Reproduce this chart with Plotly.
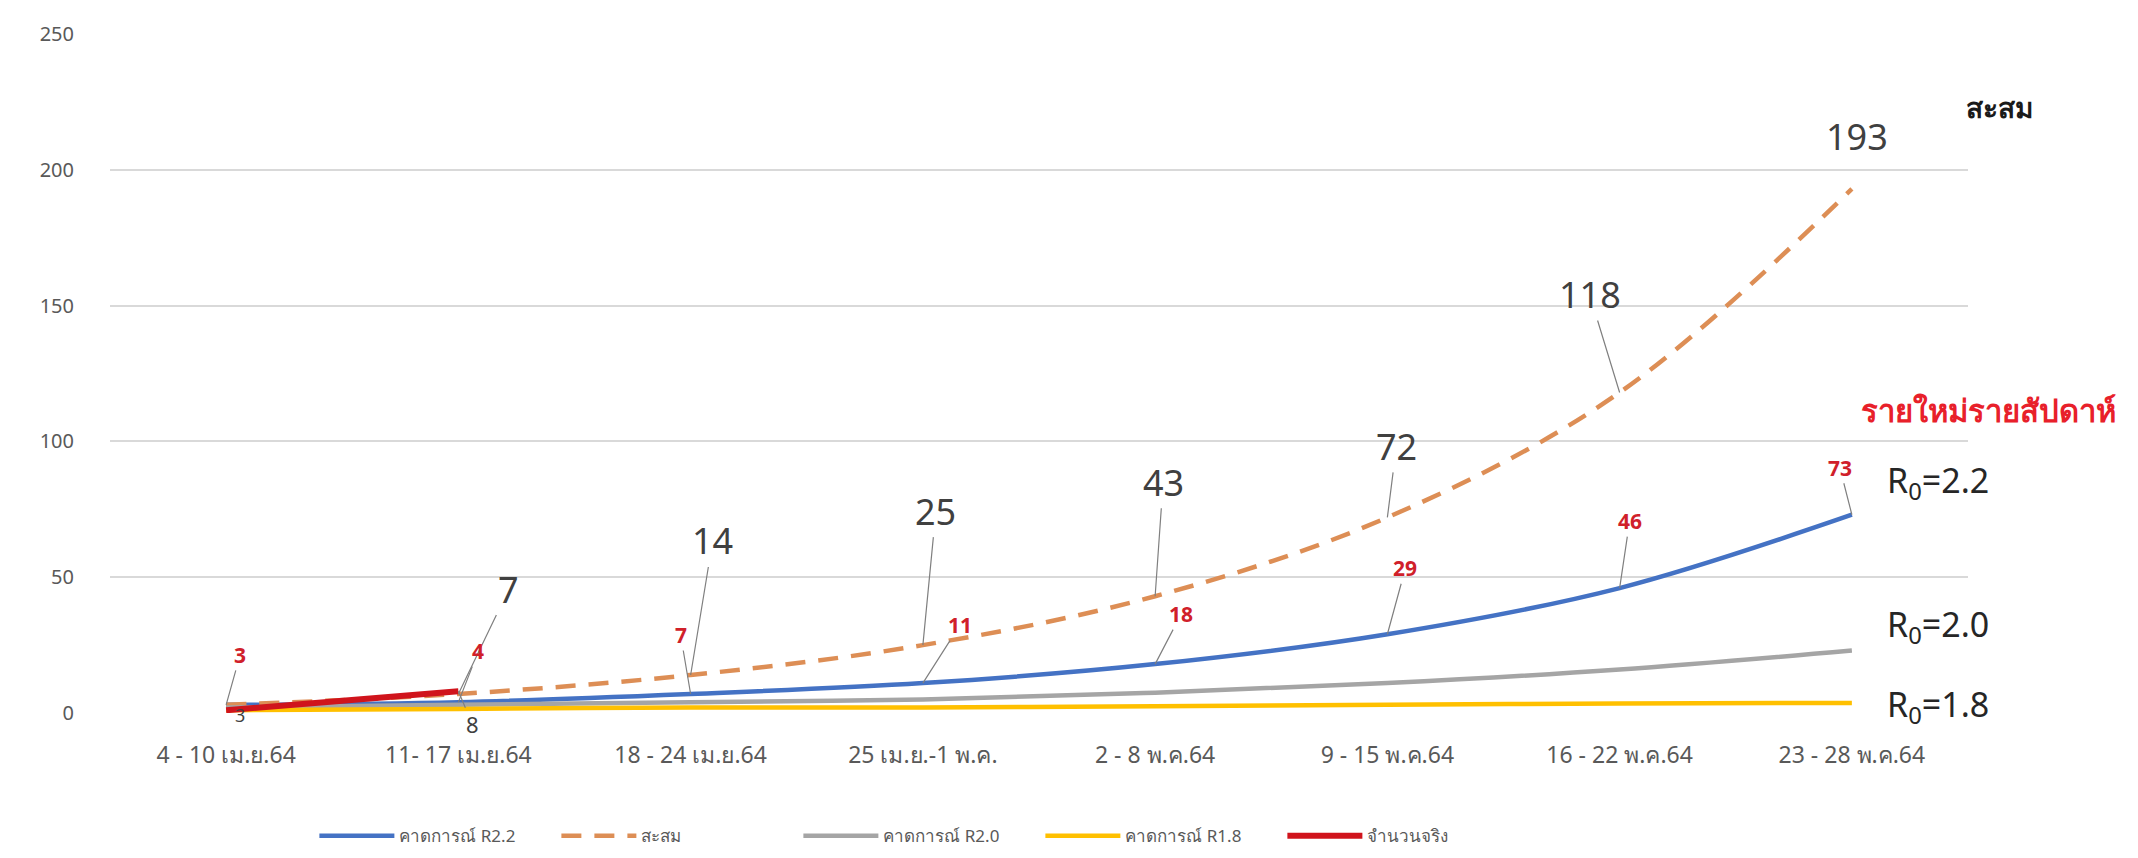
import plotly.graph_objects as go

categories = ["4 - 10 เม.ย.64", "11- 17 เม.ย.64", "18 - 24 เม.ย.64", "25 เม.ย.-1 พ.ค.",
              "2 - 8 พ.ค.64", "9 - 15 พ.ค.64", "16 - 22 พ.ค.64", "23 - 28 พ.ค.64"]
r22_weekly = [3, 4, 7, 11, 18, 29, 46, 73]
cumulative = [3, 7, 14, 25, 43, 72, 118, 193]
r20_weekly = [2, 3, 4, 5, 7.5, 11, 16, 23]
r18_weekly = [1, 1.5, 2, 2, 2.5, 3, 3.5, 3.7]
actual_cases = [1, 8]

FONT = "Tahoma, 'Noto Sans', 'DejaVu Sans', sans-serif"
idx = list(range(len(categories)))

fig = go.Figure()
fig.add_trace(go.Scatter(x=idx, y=r22_weekly, mode="lines", name="คาดการณ์ R2.2",
                         line=dict(color="#4472C4", width=4.5, shape="spline")))
fig.add_trace(go.Scatter(x=idx, y=cumulative, mode="lines", name="สะสม",
                         line=dict(color="#DD8E55", width=4.5, dash="20px,13px", shape="spline")))
fig.add_trace(go.Scatter(x=idx, y=r20_weekly, mode="lines", name="คาดการณ์ R2.0",
                         line=dict(color="#A5A5A5", width=4.5, shape="spline")))
fig.add_trace(go.Scatter(x=idx, y=r18_weekly, mode="lines", name="คาดการณ์ R1.8",
                         line=dict(color="#FFC000", width=4.5, shape="spline")))
fig.add_trace(go.Scatter(x=idx[:len(actual_cases)], y=actual_cases, mode="lines", name="จำนวนจริง",
                         line=dict(color="#D0141C", width=6)))

ann = []
cum_off = [None, (50, -104), (22, -134), (13, -134), (8, -114), (9, -71), (-30, -98), None]
for i, v in enumerate(cumulative):
    off = cum_off[i]
    if off is None:
        continue
    ann.append(dict(x=i, y=v, xref="x", yref="y", text=str(v), showarrow=True,
                    arrowhead=0, arrowwidth=1.2, arrowcolor="#7F7F7F", ax=off[0], ay=off[1],
                    font=dict(size=36, color="#404040", family=FONT)))
# last cumulative label without leader
ann.append(dict(x=7, y=cumulative[7], xref="x", yref="y", text=str(cumulative[7]), showarrow=False,
                xshift=5, yshift=52, font=dict(size=36, color="#404040", family=FONT)))
# first cumulative small label
ann.append(dict(x=0, y=cumulative[0], xref="x", yref="y", text=str(cumulative[0]), showarrow=False,
                xshift=14, yshift=-10, font=dict(size=18, color="#404040", family=FONT)))

red_off = [(14, -50), (20, -51), (-10, -59), (37, -58), (26, -50), (18, -66), (10, -67), (-12, -47)]
for i, v in enumerate(r22_weekly):
    ann.append(dict(x=i, y=v, xref="x", yref="y", text="<b>%d</b>" % v, showarrow=True,
                    arrowhead=0, arrowwidth=1.2, arrowcolor="#7F7F7F", ax=red_off[i][0], ay=red_off[i][1],
                    font=dict(size=21, color="#D0202A", family=FONT)))

# actual cases label
ann.append(dict(x=1, y=actual_cases[1], xref="x", yref="y", text=str(actual_cases[1]), showarrow=True,
                arrowhead=0, arrowwidth=1.2, arrowcolor="#7F7F7F", ax=14, ay=33,
                font=dict(size=22, color="#404040", family=FONT)))

ann.append(dict(x=1.017, y=0.892, xref="paper", yref="paper", xanchor="center", yanchor="middle",
                text="<b>สะสม</b>", showarrow=False,
                font=dict(size=28, color="#1A1A1A", family=FONT)))
ann.append(dict(x=1.011, y=0.446, xref="paper", yref="paper", xanchor="center", yanchor="middle",
                text="<b>รายใหม่รายสัปดาห์</b>",
                showarrow=False, font=dict(size=31, color="#E8202A", family=FONT)))
for txt, yy in [("2.2", 0.34), ("2.0", 0.128), ("1.8", 0.01)]:
    ann.append(dict(x=0.984, y=yy, xref="paper", yref="paper", xanchor="center", yanchor="middle",
                    text="R<sub>0</sub>=" + txt,
                    showarrow=False, font=dict(size=34, color="#262626", family=FONT)))

fig.update_layout(
    width=2138, height=858,
    margin=dict(l=102, r=178, t=24, b=146),
    paper_bgcolor="white", plot_bgcolor="white",
    showlegend=True,
    legend=dict(orientation="h", x=0.11, xanchor="left", y=-0.155, yanchor="top",
                font=dict(size=17, color="#595959", family=FONT), itemwidth=75,
                entrywidth=152, traceorder="normal"),
    annotations=ann,
    xaxis=dict(tickmode="array", tickvals=idx, ticktext=categories, range=[-0.5, 7.5],
               showgrid=False, zeroline=False, showline=False, ticks="", ticklabelstandoff=26,
               tickfont=dict(size=23, color="#595959", family=FONT)),
    yaxis=dict(range=[0, 250], dtick=50, showgrid=True, gridcolor="#D9D9D9", gridwidth=1.5,
               zeroline=False, showline=False, ticks="", ticklabelstandoff=35,
               tickfont=dict(size=20, color="#595959", family=FONT)),
)

fig.write_html("out.html")
